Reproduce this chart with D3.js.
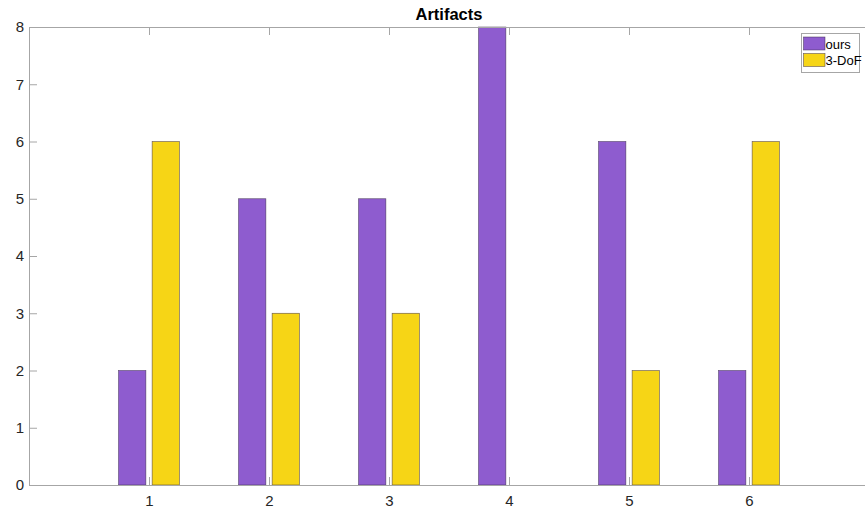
<!DOCTYPE html>
<html lang="en">

<head>
  <meta charset="UTF-8">
  <title>Artifacts</title>
  <script src="https://d3js.org/d3.v7.min.js"></script>
  <style>
    body { margin: 0; background: #fff; }
    text { font-family: "Liberation Sans", Arial, sans-serif; }
  </style>
</head>

<body>
  <div id="my_dataviz"></div>
  <script>

    // data
    const groups = [1, 2, 3, 4, 5, 6];
    const seriesNames = ["ours", "3-DoF"];
    const ours = [2, 5, 5, 8, 6, 2];
    const dof3 = [6, 3, 3, 0, 2, 6];
    const yTicks = [0, 1, 2, 3, 4, 5, 6, 7, 8];
    const colors = ["#8e5ccf", "#f6d516"];

    // plot area (right edge sits just past the window, like the original)
    const W = 865, H = 512;
    const plot = { left: 29, right: 869, top: 27, bottom: 485 };

    const svg = d3.select("#my_dataviz")
      .append("svg")
      .attr("width", W)
      .attr("height", H);

    const x = d3.scaleLinear().domain([0, 7]).range([plot.left, plot.right]);
    const y = d3.scaleLinear().domain([0, 8]).range([plot.bottom, plot.top]);

    const axisColor = "#a6a6a6";

    // bars
    const barW = 0.228, off = 0.14;
    const series = [ours, dof3];
    series.forEach((vals, s) => {
      svg.append("g")
        .selectAll("rect")
        .data(groups.map((g, i) => ({ g: g, v: vals[i] })).filter(d => d.v > 0))
        .join("rect")
        .attr("x", d => x(d.g + (s === 0 ? -off : off) - barW / 2))
        .attr("width", x(barW) - x(0))
        .attr("y", d => y(d.v))
        .attr("height", d => y(0) - y(d.v))
        .attr("fill", colors[s])
        .attr("stroke", "#3a2a4a")
        .attr("stroke-opacity", 0.8)
        .attr("stroke-width", 0.6);
    });

    // bottom axis
    svg.append("g")
      .attr("transform", `translate(0,${plot.bottom})`)
      .call(d3.axisBottom(x).tickValues(groups).tickFormat(d3.format("d"))
        .tickSize(-8).tickSizeOuter(0).tickPadding(10))
      .call(g => g.select(".domain").attr("stroke", axisColor))
      .call(g => g.selectAll(".tick line").attr("stroke", axisColor))
      .call(g => g.selectAll(".tick text").attr("font-size", 15).attr("fill", "#262626"));

    // top axis (box)
    svg.append("g")
      .attr("transform", `translate(0,${plot.top})`)
      .call(d3.axisTop(x).tickValues(groups).tickFormat("").tickSize(-8).tickSizeOuter(0))
      .call(g => g.select(".domain").attr("stroke", axisColor))
      .call(g => g.selectAll(".tick line").attr("stroke", axisColor));

    // left axis
    svg.append("g")
      .attr("transform", `translate(${plot.left},0)`)
      .call(d3.axisLeft(y).tickValues(yTicks).tickFormat(d3.format("d"))
        .tickSize(-8).tickSizeOuter(0).tickPadding(5))
      .call(g => g.select(".domain").attr("stroke", axisColor))
      .call(g => g.selectAll(".tick line").attr("stroke", axisColor))
      .call(g => g.selectAll(".tick text").attr("font-size", 15).attr("fill", "#262626"));

    // title
    svg.append("text")
      .attr("x", (plot.left + plot.right) / 2)
      .attr("y", 20)
      .attr("text-anchor", "middle")
      .attr("font-size", 16.5)
      .attr("font-weight", "bold")
      .attr("fill", "#000")
      .text("Artifacts");

    // legend
    const lg = svg.append("g").attr("transform", "translate(801.5,33.5)");
    lg.append("rect")
      .attr("width", 58)
      .attr("height", 39)
      .attr("fill", "#fff")
      .attr("stroke", "#a6a6a6")
      .attr("stroke-width", 1);
    seriesNames.forEach((name, i) => {
      lg.append("rect")
        .attr("x", 2)
        .attr("y", 3.5 + i * 16.5)
        .attr("width", 21.5)
        .attr("height", 13)
        .attr("fill", colors[i])
        .attr("stroke", "#3a2a4a")
        .attr("stroke-opacity", 0.8)
        .attr("stroke-width", 0.6);
      lg.append("text")
        .attr("x", 24)
        .attr("y", 15 + i * 16.5)
        .attr("font-size", 13)
        .attr("fill", "#000")
        .text(name);
    });

  </script>
</body>

</html>
